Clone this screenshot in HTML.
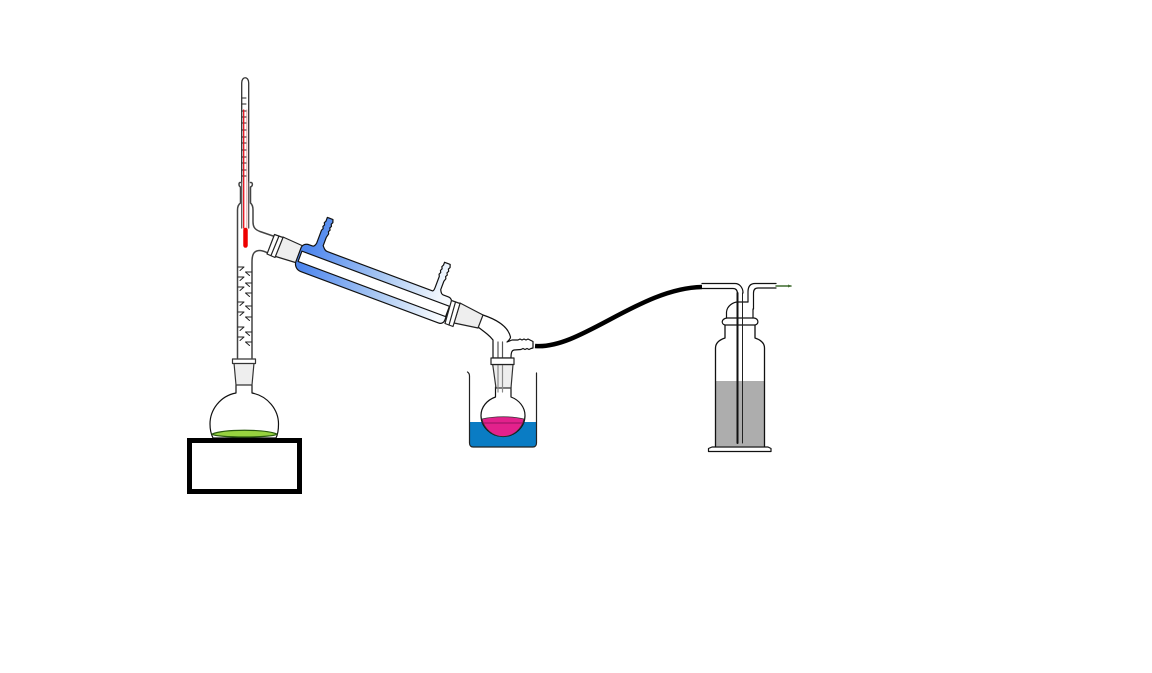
<!DOCTYPE html>
<html><head><meta charset="utf-8"><style>html,body{margin:0;padding:0;background:#fff}svg{display:block}</style></head><body>
<svg width="1152" height="673" viewBox="0 0 1152 673" xmlns="http://www.w3.org/2000/svg">
<defs>
<linearGradient id="cg" gradientUnits="userSpaceOnUse" x1="5" y1="0" x2="150" y2="0"><stop offset="0" stop-color="#4f87ee"/><stop offset=".55" stop-color="#a9c8f3"/><stop offset="1" stop-color="#f6fafe"/></linearGradient>
</defs>
<g fill="none" stroke="#111" stroke-width="1.200" stroke-linejoin="round" stroke-linecap="round">
<!-- left flask -->
<path d="M236 385V393C220 396 210 410 210 424C210 430 211 434 213 438H276C278 434 278.500 430 278.500 424C278.500 410 268 396 252 393V385" fill="#fff"/>
<path d="M212 434C225 429 264 429 277 434C274 438 215 438 212 434Z" fill="#97d33f" stroke="#2a5a10"/>
<path d="M234 363H254L252 385H236Z" fill="#eee" stroke="#333"/>
<rect x="232.500" y="359" width="23" height="4.500" fill="#fff" stroke="#333"/>
<rect x="189.500" y="440.500" width="110" height="51" stroke="#000" stroke-width="5" stroke-linejoin="miter" fill="#fff"/>
<!-- column -->
<path d="M237.500 358V210Q237.500 205 240.500 203V187C238.500 186 238.500 182 240.500 182.500M252 358V262C252 254 254 250.500 260 250.500C263 250.500 266 252 270 254M250.500 182.500C253 182 253 186 250.500 187V203Q253 205 253 210V222C253 228 256 230 260 231.500L276 237" stroke="#444" stroke-width="1.500"/>
<g stroke="#222" stroke-width="1">
<path d="M238 267h6l-4 3.500M238 277h6l-4 3.500M238 287h6l-4 3.500M238 302h6l-4 3.500M238 312h6l-4 3.500M238 327h6l-4 3.500M238 337h6l-4 3.500"/>
<path d="M251.500 272h-6l4 3.500M251.500 283h-6l4 3.500M251.500 293h-6l4 3.500M251.500 306h-6l4 3.500M251.500 317h-6l4 3.500M251.500 332h-6l4 3.500M251.500 342h-6l4 3.500"/>
</g>
<!-- thermometer -->
<path d="M241.700 182V83C241.700 76 248.700 76 248.700 83V182" fill="#fff" stroke="#333" stroke-width="1.300"/>
<path d="M248.700 182V228M241.700 182V228" stroke="#555" stroke-width="1.300"/>
<path d="M246.800 110V228" stroke="#e8b0b0"/>
<path d="M242 98h4M242 104h4M242 111h4M242 117h4M242 123h4M242 130h4M242 137h4M242 143h4M242 150h4M242 157h4M242 163h4M242 170h4M242 176h4" stroke="#222" stroke-width="1"/>
<path d="M243.700 110V228" stroke="#e8101c" stroke-width="1.300"/>
<path d="M245.500 230V245.500" stroke="#ee0000" stroke-width="4.500"/>
<!-- left joint -->
<path d="M283 237L303 246L297 263L274 256Z" fill="#eee" stroke="#222"/>
<path d="M274.500 234.500L283 237.500L275 257.500L267 254Z" fill="#fff" stroke="#222"/>
<path d="M279 236L271 255.500" stroke="#222"/>
<!-- condenser -->
<g transform="translate(300 256.300) rotate(20.500)">
<path d="M5 -14H8C10 -14 10.500 -16 11 -18V-32l1 -2 -1 -2 1 -2 -1 -2 1 -2 0 -4 2 0 4 0 1 3 -1 2 1 2 -1 2 1 2 -1 2 1 2 -1 4 V-18C20 -16 21 -14 24 -14H136C137 -14 137.500 -15 137.500 -18V-30l-1 -2 1 -2 -1 -2 1 -2 -1 -2 1 -2 0 -3 4 0 2 0 1 3 -1 2 1 2 -1 2 1 2 -1 2 1 2 -1 3 V-18C145 -15 146 -14 148 -14H153C156 -14 158 -12 158 -9V9C158 12 156 14 153 14H6C2 14 -2 11 -2 6V-8C-2 -12 1 -14 5 -14Z" fill="url(#cg)" stroke="#111"/>
<path d="M0 -5.500H157.500V5.500H0Z" fill="#fff" stroke="#111"/>
</g>
<!-- right joint & adapter -->
<path d="M459 304L483 315C495 319 508 326 510.500 337C510.500 339 509 340 507 342L512 340H518l2-1 2 1 2-1 2 1 2-1 2 1 3 1.500V348L531 348.500l-2 1-2-1-2 1-2-1-2 1L514 350C512 350.500 511 352 511 358H493V340C490 336 486 333 478 327L452 320Z" fill="#fff"/>
<path d="M460 303L483 315L478 328L454 323Z" fill="#eee" stroke="#222"/>
<path d="M451.500 300.500L460 303.500L453 326.500L445 323.500Z" fill="#fff" stroke="#222"/>
<path d="M455.500 302L449 325" stroke="#222"/>
<path d="M498 342V392M502.500 342V392" stroke="#555"/>
<!-- beaker water -->
<path d="M469.500 422H536.500V443C536.500 445.500 535 447 533 447H473C471 447 469.500 445.500 469.500 443Z" fill="#0a7cc4" stroke="none"/>
<!-- receiving flask -->
<path d="M495.500 387V397C487 400 481 407 481 415.500C481 427 491 436.500 503 436.500C515 436.500 525 427 525 415.500C525 407 519 400 511 397V387" fill="#fff"/>
<path d="M482 419C495 416 512 416 524 419C522 429 513 436.500 503 436.500C493 436.500 484 429 482 419Z" fill="#e3218c" stroke="#333" stroke-width=".8"/>
<path d="M482.500 423H523.500" stroke="#7a1050" stroke-width=".7"/>
<path d="M492.700 364.500H513L511 388H496Z" fill="#eee" stroke="#333"/>
<path d="M498 364V392M502.500 364V392" stroke="#888"/>
<rect x="491" y="358" width="23" height="6.500" fill="#fff" stroke="#222"/>
<!-- beaker -->
<path d="M467.500 372C469 373 469.500 374 469.500 376V443C469.500 445.500 471 447 473 447H533C535 447 536.500 445.500 536.500 443V373" stroke="#222"/>
<!-- tube -->
<path d="M535 346C580 350 640 288 702 287" stroke="#000" stroke-width="4.500" stroke-linecap="butt"/>
<!-- bottle -->
<path d="M715.500 381H764.500V446H715.500Z" fill="#adadad" stroke="none"/>
<path d="M725 325V338C719 340 715.500 343 715.500 348V447H764.500V348C764.500 343 761 340 755 338V325" stroke="#111" stroke-width="1.300"/>
<path d="M727 318H754C759 319 759 324 755 325H725C721 324 721 319 727 318Z" fill="#fff" stroke="#111"/>
<path d="M726.500 318V312C727 306 733 302 738 302H748M753 318V309" stroke="#111"/>
<path d="M708.500 451.500H771V448.500L768 447H712L708.500 448.500Z" fill="#fff" stroke="#111"/>
<path d="M737.500 293V443" stroke="#111" stroke-width="2"/>
<path d="M742.500 293V443" stroke="#222" stroke-width="1"/>
<path d="M702 283.500H735C739 283.500 743 287 743 293M702 288.500H733C736 288.500 737.500 290 737.500 294" stroke="#111"/>
<path d="M776 283.500H755C750 283.500 748 287 748 292V302M776 288H758C755 288 753.500 290 753.500 293V309" stroke="#111"/>
<path d="M776 286H791" stroke="#3f6b2f" stroke-width="1.500"/>
<path d="M788 284.500L791.500 286L788 287.500Z" fill="#3f6b2f" stroke="none"/>
</g>
</svg>
</body></html>
